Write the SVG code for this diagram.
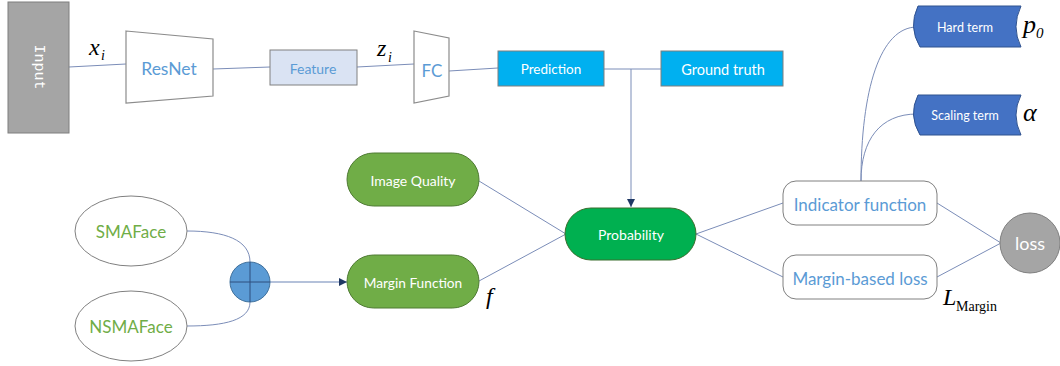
<svg xmlns="http://www.w3.org/2000/svg" width="1060" height="366" viewBox="0 0 1060 366">
<defs>
<style>
.ln{fill:none;stroke:#7b8db8;stroke-width:1}
.t{font-family:Lato,"Open Sans",sans-serif;text-anchor:middle;dominant-baseline:central}
.m{font-family:"Liberation Serif","DejaVu Serif",serif;font-style:italic;fill:#000}
.w{fill:#fff}
.b{fill:#5b9bd5}
.g{fill:#70ad47}
.trap{fill:#fff;stroke:#8c8c8c;stroke-width:1.2}
.pill{fill:#70ad47;stroke:#4e7a33;stroke-width:1}
.box{fill:#fff;stroke:#808080;stroke-width:1}
.blue{fill:#00b0f0;stroke:#7f7f7f;stroke-width:1}
.store{fill:#4472c4;stroke:#2f528f;stroke-width:1}
</style>
<marker id="arr" viewBox="0 0 10 10" refX="10" refY="5" markerWidth="8" markerHeight="8" orient="auto" markerUnits="userSpaceOnUse">
<path d="M0,0 L10,5 L0,10 z" fill="#1f3864"/>
</marker>
</defs>
<rect width="1060" height="366" fill="#fff"/>
<g id="connectors">
<line class="ln" x1="69" y1="67" x2="126" y2="64"/>
<line class="ln" x1="213" y1="69" x2="270" y2="67"/>
<line class="ln" x1="357" y1="67" x2="414" y2="64"/>
<line class="ln" x1="449" y1="71" x2="498" y2="68"/>
<line class="ln" x1="604" y1="69" x2="661" y2="69"/>
<line class="ln" x1="631" y1="69" x2="631" y2="207" marker-end="url(#arr)"/>
<line class="ln" x1="479" y1="181" x2="566" y2="234"/>
<line class="ln" x1="479" y1="281" x2="566" y2="234"/>
<line class="ln" x1="696" y1="234" x2="783" y2="203"/>
<line class="ln" x1="696" y1="234" x2="783" y2="277"/>
<line class="ln" x1="937" y1="203" x2="1001" y2="243"/>
<line class="ln" x1="937" y1="277" x2="1001" y2="243"/>
<path class="ln" d="M861,181 C861,90 880,27 917,27"/>
<path class="ln" d="M861,181 C861,140 880,114 917,114"/>
<path class="ln" d="M187,231 C225,231 250,240 250,262"/>
<path class="ln" d="M187,326 C225,326 250,320 250,302"/>
<line x1="270" y1="282" x2="347" y2="282" stroke="#b4c1da" stroke-width="2" marker-end="url(#arr)"/>
</g>
<g id="input">
<rect x="8" y="2" width="61" height="131" fill="#a5a5a5" stroke="#7f7f7f" stroke-width="1"/>
<text class="w" x="38" y="67" font-family="'Liberation Mono',monospace" font-size="15" text-anchor="middle" dominant-baseline="central" transform="rotate(90 38 67)">Input</text>
</g>
<g id="xi"><text class="m" x="89" y="55" font-size="24">x</text><text class="m" x="101" y="60" font-size="14">i</text></g>
<g id="resnet">
<polygon class="trap" points="126,31 213,39 213,96 126,103"/>
<text class="t b" x="169" y="68" font-size="17.5">ResNet</text>
</g>
<g id="feature">
<rect x="270" y="50" width="87" height="35" fill="#dae3f3" stroke="#808080"/>
<text class="t b" x="313" y="68" font-size="14">Feature</text>
</g>
<g id="zi"><text class="m" x="377" y="56" font-size="24">z</text><text class="m" x="388" y="62" font-size="14">i</text></g>
<g id="fc">
<polygon class="trap" points="414,31 449,38 449,96 414,103"/>
<text class="t b" x="432" y="70" font-size="17">FC</text>
</g>
<g id="prediction">
<rect class="blue" x="498" y="51" width="106" height="35"/>
<text class="t w" x="551" y="69" font-size="13.5">Prediction</text>
</g>
<g id="groundtruth">
<rect class="blue" x="661" y="51" width="122" height="35"/>
<text class="t w" x="723" y="69" font-size="14.5">Ground truth</text>
</g>
<g id="hardterm">
<path class="store" d="M918,6 L1021,6 Q1011,27 1021,47 L920,47 Q908,27 918,6 z"/>
<text class="t w" x="965" y="27" font-size="12.5">Hard term</text>
<text class="m" x="1023" y="33" font-size="26">p</text><text class="m" x="1036" y="38" font-size="15">0</text>
</g>
<g id="scalingterm">
<path class="store" d="M918,95 L1021,95 Q1011,115 1021,135 L920,135 Q908,115 918,95 z"/>
<text class="t w" x="965" y="115" font-size="12.5">Scaling term</text>
<text class="m" x="1023" y="121" font-size="26">α</text>
</g>
<g id="imagequality">
<rect class="pill" x="347" y="153" width="132" height="53" rx="26.5"/>
<text class="t w" x="413" y="180" font-size="14">Image Quality</text>
</g>
<g id="marginfunction">
<rect class="pill" x="347" y="255" width="132" height="53" rx="26.5"/>
<text class="t w" x="413" y="282" font-size="13.7">Margin Function</text>
</g>
<g id="f"><text class="m" x="486" y="304" font-size="24">f</text></g>
<g id="probability">
<rect x="565" y="208" width="131" height="52" rx="26" fill="#00b050" stroke="#3b6e2e"/>
<text class="t w" x="631" y="234" font-size="14">Probability</text>
</g>
<g id="indicator">
<rect class="box" x="783" y="181" width="154" height="44" rx="13"/>
<text class="t b" x="860" y="204" font-size="17">Indicator function</text>
</g>
<g id="marginloss">
<rect class="box" x="783" y="255" width="154" height="44" rx="13"/>
<text class="t b" x="860" y="278" font-size="17">Margin-based loss</text>
</g>
<g id="lmargin"><text class="m" x="943" y="305" font-size="24">L</text><text x="956" y="311" font-family="'Liberation Serif',serif" font-size="14" fill="#000">Margin</text></g>
<g id="loss">
<circle cx="1030" cy="243" r="30" fill="#a5a5a5" stroke="#7f7f7f"/>
<text class="t w" x="1030" y="243" font-size="18">loss</text>
</g>
<g id="smaface">
<ellipse class="box" cx="131" cy="231" rx="56" ry="35"/>
<text class="t g" x="131" y="231" font-size="17">SMAFace</text>
</g>
<g id="nsmaface">
<ellipse class="box" cx="131" cy="326" rx="56" ry="35"/>
<text class="t g" x="131" y="326" font-size="17">NSMAFace</text>
</g>
<g id="sum">
<circle cx="250" cy="282" r="20" fill="#5b9bd5" stroke="#41719c"/>
<line x1="230" y1="282" x2="270" y2="282" stroke="#2f4f7f" stroke-width="1"/>
<line x1="250" y1="262" x2="250" y2="302" stroke="#2f4f7f" stroke-width="1"/>
</g>
</svg>
